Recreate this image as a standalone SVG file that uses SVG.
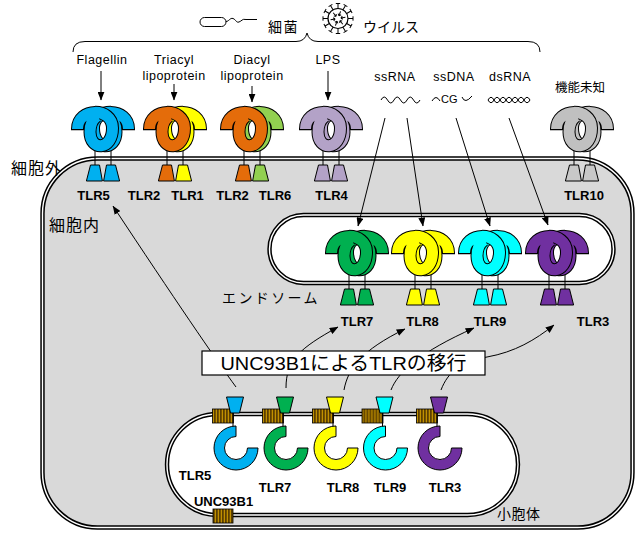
<svg xmlns="http://www.w3.org/2000/svg" xmlns:xlink="http://www.w3.org/1999/xlink" width="635" height="533" viewBox="0 0 635 533">
<defs>
<style>
.jp{font-family:"Noto Sans CJK JP",sans-serif;fill:#000}
.lig{font-family:"Liberation Sans",Arial,sans-serif;font-size:12.5px;letter-spacing:0.5px;text-anchor:middle}
.lab{font-family:"Liberation Sans",Arial,sans-serif;font-size:13px;font-weight:bold;text-anchor:middle}
.mo{fill:none;stroke:#000;stroke-width:13}
.mf{fill:none;stroke:currentColor;stroke-width:11}
.ft{stroke:#000;stroke-width:1}
.stem{stroke:#000;stroke-width:1;fill:none}
.mem{stroke:#000;stroke-width:4.4}
.memw{fill:none;stroke:#fff;stroke-width:1.4}
.ln{fill:none;stroke:#000;stroke-width:1}
.arr{fill:none;stroke:#000;stroke-width:1;marker-end:url(#ah)}
</style>
<marker id="ah" viewBox="0 0 10 8" refX="9.5" refY="4" markerWidth="9" markerHeight="7" markerUnits="userSpaceOnUse" orient="auto"><path d="M0,0 L10,4 L0,8 Z" fill="#000"/></marker>
<pattern id="unc" width="3" height="30" patternUnits="userSpaceOnUse"><rect width="3" height="30" fill="#5c3f00"/><rect x="1.8" width="1" height="30" fill="#d9a400"/></pattern>
<!-- one receptor chain: foot on the left, arch over the top, loop curling back -->
<g id="mono">
<path class="mo" d="M-25.5,1.2 L-25.5,0 C-25.5,-22 9.5,-22 9.5,-1 C9.5,22 -13,22 -13,3 C-13,-5 -10,-10 -6,-13"/>
<path class="mf" d="M-25.5,0 C-25.5,-22 9.5,-22 9.5,-1 C9.5,22 -13,22 -13,3 C-13,-5 -10,-10 -6,-13"/>
</g>
<polygon id="foot" class="ft" points="-12.5,36 -3.5,36 -0.6,52 -16.6,52"/>
<g id="stems"><line class="stem" x1="-8" y1="12" x2="-8" y2="36"/><line class="stem" x1="8" y1="12" x2="8" y2="36"/></g>
<path id="ring" class="ft" d="M0,-22 A22,22 0 1 0 22,0 L11.5,0 A11.5,11.5 0 1 1 0,-11.5 Z"/>
<polygon id="cone" class="ft" points="-8.5,397 8.5,397 4.5,413 -4.5,413"/>
<g id="spk" class="ln"><line x1="0" y1="-10" x2="0" y2="-15"/><line x1="-2.2" y1="-15" x2="2.2" y2="-15"/></g>
<g id="ispk" class="ln"><line x1="0" y1="-3" x2="0" y2="-7.5"/><line x1="0" y1="-3" x2="-1.6" y2="-4.6"/><line x1="0" y1="-3" x2="1.6" y2="-4.6"/></g>
</defs>

<rect width="635" height="533" fill="#fff"/>

<!-- header: pathogens and brace -->
<g id="pathogens">
<rect x="200" y="17.5" width="26" height="9" rx="4.5" fill="#fff" stroke="#000" stroke-width="1"/>
<path class="ln" d="M226,21.5 C229,21.5 230,17.5 233,18.5 C236,19.5 236,23 239,22 C242,21 242,18.5 246,19.5 L257,19.5"/>
<text class="jp" x="268" y="32" font-size="14" letter-spacing="1.5">細菌</text>
<g transform="translate(338,18.5)">
<circle r="10" fill="#fff" stroke="#000" stroke-width="1.2"/>
<use href="#spk"/><use href="#spk" transform="rotate(30)"/><use href="#spk" transform="rotate(60)"/><use href="#spk" transform="rotate(90)"/><use href="#spk" transform="rotate(120)"/><use href="#spk" transform="rotate(150)"/><use href="#spk" transform="rotate(180)"/><use href="#spk" transform="rotate(210)"/><use href="#spk" transform="rotate(240)"/><use href="#spk" transform="rotate(270)"/><use href="#spk" transform="rotate(300)"/><use href="#spk" transform="rotate(330)"/>
<use href="#ispk" transform="rotate(20)"/><use href="#ispk" transform="rotate(80)"/><use href="#ispk" transform="rotate(140)"/><use href="#ispk" transform="rotate(200)"/><use href="#ispk" transform="rotate(260)"/><use href="#ispk" transform="rotate(320)"/>
</g>
<text class="jp" x="363" y="32" font-size="14">ウイルス</text>
<path class="ln" d="M73,52 Q73,41.5 85,41.5 L296,41.5 Q305,41.5 307,33 Q309,41.5 318,41.5 L528,41.5 Q540,41.5 540,52"/>
</g>

<!-- ligands -->
<g id="ligands">
<text class="lig" x="102" y="64">Flagellin</text>
<text class="lig" x="174" y="64">Triacyl</text>
<text class="lig" x="174" y="80">lipoprotein</text>
<text class="lig" x="252" y="64">Diacyl</text>
<text class="lig" x="252" y="80">lipoprotein</text>
<text class="lig" x="328" y="64">LPS</text>
<text class="lig" x="395" y="81">ssRNA</text>
<text class="lig" x="454" y="81">ssDNA</text>
<text class="lig" x="510" y="81">dsRNA</text>
<path class="ln" d="M381,100 Q384.2,94 387.5,100 T394,100 T400.5,100 T407,100 T413.5,100 T420,100"/>
<path class="ln" d="M432,101 Q436,94 440,101"/>
<text x="441" y="103" font-family="Liberation Sans,Arial,sans-serif" font-size="11">CG</text>
<path class="ln" d="M462,97 Q465,104.5 472,96"/>
<path class="ln" d="M488,100 Q491,94.5 494,100 T500,100 T506,100 T512,100 T518,100 T524,100 T530,100"/>
<path class="ln" d="M488,100 Q491,105.5 494,100 T500,100 T506,100 T512,100 T518,100 T524,100 T530,100"/>
<text class="jp" x="555" y="92" font-size="12.5">機能未知</text>
</g>

<!-- cell with plasma membrane -->
<g id="cell">
<rect class="mem" x="42.5" y="158.5" width="590" height="369" rx="55" fill="#d9d9d9"/>
<rect class="memw" x="42.5" y="158.5" width="590" height="369" rx="55"/>
<text class="jp" x="11" y="174" font-size="16" letter-spacing="1">細胞外</text>
<text class="jp" x="49" y="231" font-size="16" letter-spacing="1">細胞内</text>
</g>

<!-- endosome -->
<g id="endosome">
<rect class="mem" x="269.5" y="215" width="344" height="68" rx="34" fill="#fff"/>
<rect class="memw" x="269.5" y="215" width="344" height="68" rx="34"/>
<text class="jp" x="222" y="303" font-size="14" letter-spacing="2.4">エンドソーム</text>
</g>

<!-- endoplasmic reticulum -->
<g id="er">
<rect class="mem" x="167" y="414" width="351" height="101" rx="50.5" fill="#fff"/>
<rect class="memw" x="167" y="414" width="351" height="101" rx="50.5"/>
<text class="jp" x="497" y="519" font-size="14" letter-spacing="0.5">小胞体</text>
</g>

<!-- surface receptors -->
<g id="tlr5" transform="translate(103,129)">
<use href="#stems"/>
<use href="#mono" transform="scale(-1,1)" style="color:#00b0f0"/>
<use href="#mono" style="color:#00b0f0"/>
<use href="#foot" fill="#00b0f0"/><use href="#foot" transform="scale(-1,1)" fill="#00b0f0"/>
</g>
<text class="lab" x="93.5" y="200">TLR5</text>

<g id="tlr2-tlr1" transform="translate(175,129)">
<use href="#stems"/>
<use href="#mono" transform="scale(-1,1)" style="color:#ffff00"/>
<use href="#mono" style="color:#e46c0a"/>
<use href="#foot" fill="#e46c0a"/><use href="#foot" transform="scale(-1,1)" fill="#ffff00"/>
</g>
<text class="lab" x="144" y="200">TLR2</text>
<text class="lab" x="187.5" y="200">TLR1</text>

<g id="tlr2-tlr6" transform="translate(252,129)">
<use href="#stems"/>
<use href="#mono" transform="scale(-1,1)" style="color:#92d050"/>
<use href="#mono" style="color:#e46c0a"/>
<use href="#foot" fill="#e46c0a"/><use href="#foot" transform="scale(-1,1)" fill="#92d050"/>
</g>
<text class="lab" x="232.5" y="200">TLR2</text>
<text class="lab" x="275" y="200">TLR6</text>

<g id="tlr4" transform="translate(331,129)">
<use href="#stems"/>
<use href="#mono" transform="scale(-1,1)" style="color:#b3a2c7"/>
<use href="#mono" style="color:#b3a2c7"/>
<use href="#foot" fill="#b3a2c7"/><use href="#foot" transform="scale(-1,1)" fill="#b3a2c7"/>
</g>
<text class="lab" x="331.5" y="200">TLR4</text>

<g id="tlr10" transform="translate(582,129)">
<use href="#stems"/>
<use href="#mono" transform="scale(-1,1)" style="color:#c0c0c0"/>
<use href="#mono" style="color:#c0c0c0"/>
<use href="#foot" fill="#c8c8c8"/><use href="#foot" transform="scale(-1,1)" fill="#c8c8c8"/>
</g>
<text class="lab" x="584" y="200">TLR10</text>

<!-- endosomal receptors -->
<g id="tlr7" transform="translate(357,253)">
<use href="#stems"/>
<use href="#mono" transform="scale(-1,1)" style="color:#00b050"/>
<use href="#mono" style="color:#00b050"/>
<use href="#foot" fill="#00b050"/><use href="#foot" transform="scale(-1,1)" fill="#00b050"/>
</g>
<text class="lab" x="357" y="326">TLR7</text>

<g id="tlr8" transform="translate(423,253)">
<use href="#stems"/>
<use href="#mono" transform="scale(-1,1)" style="color:#ffff00"/>
<use href="#mono" style="color:#ffff00"/>
<use href="#foot" fill="#ffff00"/><use href="#foot" transform="scale(-1,1)" fill="#ffff00"/>
</g>
<text class="lab" x="422.5" y="326">TLR8</text>

<g id="tlr9" transform="translate(490,253)">
<use href="#stems"/>
<use href="#mono" transform="scale(-1,1)" style="color:#00ffff"/>
<use href="#mono" style="color:#00ffff"/>
<use href="#foot" fill="#00ffff"/><use href="#foot" transform="scale(-1,1)" fill="#00ffff"/>
</g>
<text class="lab" x="490" y="326">TLR9</text>

<g id="tlr3" transform="translate(557,253)">
<use href="#stems"/>
<use href="#mono" transform="scale(-1,1)" style="color:#7030a0"/>
<use href="#mono" style="color:#7030a0"/>
<use href="#foot" fill="#7030a0"/><use href="#foot" transform="scale(-1,1)" fill="#7030a0"/>
</g>
<text class="lab" x="593" y="326">TLR3</text>

<!-- receptors held in the ER by UNC93B1 -->
<g id="er-tlr5" transform="translate(235,0)">
<rect x="-22.5" y="409" width="21" height="14" fill="url(#unc)" stroke="#000" stroke-width="0.8"/>
<line class="stem" x1="-2" y1="413" x2="-2" y2="427"/>
<use href="#cone" fill="#00b0f0"/>
<use href="#ring" transform="translate(1,448)" fill="#00b0f0"/>
</g>
<g id="er-tlr7" transform="translate(285,0)">
<rect x="-22.5" y="409" width="21" height="14" fill="url(#unc)" stroke="#000" stroke-width="0.8"/>
<line class="stem" x1="-2" y1="413" x2="-2" y2="427"/>
<use href="#cone" fill="#00b050"/>
<use href="#ring" transform="translate(1,448)" fill="#00b050"/>
</g>
<g id="er-tlr8" transform="translate(335,0)">
<rect x="-22.5" y="409" width="21" height="14" fill="url(#unc)" stroke="#000" stroke-width="0.8"/>
<line class="stem" x1="-2" y1="413" x2="-2" y2="427"/>
<use href="#cone" fill="#ffff00"/>
<use href="#ring" transform="translate(1,448)" fill="#ffff00"/>
</g>
<g id="er-tlr9" transform="translate(384.5,0)">
<rect x="-22.5" y="409" width="21" height="14" fill="url(#unc)" stroke="#000" stroke-width="0.8"/>
<line class="stem" x1="-2" y1="413" x2="-2" y2="427"/>
<use href="#cone" fill="#00ffff"/>
<use href="#ring" transform="translate(1,448)" fill="#00ffff"/>
</g>
<g id="er-tlr3" transform="translate(439,0)">
<rect x="-22.5" y="409" width="21" height="14" fill="url(#unc)" stroke="#000" stroke-width="0.8"/>
<line class="stem" x1="-2" y1="413" x2="-2" y2="427"/>
<use href="#cone" fill="#7030a0"/>
<use href="#ring" transform="translate(1,448)" fill="#7030a0"/>
</g>
<g id="unc93b1">
<rect x="213" y="509" width="20" height="14" fill="url(#unc)" stroke="#000" stroke-width="0.8"/>
<text class="lab" x="223.5" y="506">UNC93B1</text>
</g>
<g id="er-labels">
<text class="lab" x="195" y="480">TLR5</text>
<text class="lab" x="275" y="492">TLR7</text>
<text class="lab" x="343" y="492">TLR8</text>
<text class="lab" x="390" y="492">TLR9</text>
<text class="lab" x="445" y="492">TLR3</text>
</g>

<!-- connectors -->
<g id="connectors">
<line class="arr" x1="101" y1="71" x2="101" y2="100"/>
<line class="arr" x1="174" y1="84" x2="174" y2="100"/>
<line class="arr" x1="252" y1="86" x2="252" y2="102"/>
<line class="arr" x1="328" y1="71" x2="328" y2="100"/>
<line class="arr" x1="385" y1="118" x2="358" y2="226"/>
<line class="arr" x1="407" y1="118" x2="423" y2="226"/>
<line class="arr" x1="456" y1="118" x2="490" y2="226"/>
<line class="arr" x1="509" y1="118" x2="548" y2="225"/>
<path class="arr" d="M236,387 Q205,345 113,206"/>
<path class="arr" d="M286,388 C286,360 300,348 338,327"/>
<path class="arr" d="M344,390 C348,368 362,350 405,329"/>
<path class="arr" d="M391,390 C398,372 420,352 474,328"/>
<path class="arr" d="M441,390 C448,372 460,362 487,357 C515,352 535,340 554,325"/>
</g>

<!-- trafficking label -->
<g id="trafficking">
<rect x="202" y="351" width="283" height="24" fill="#fff" stroke="#000" stroke-width="1.2"/>
<text x="343.5" y="370" font-family="Liberation Sans,Noto Sans CJK JP,sans-serif" font-size="19" text-anchor="middle" textLength="246" lengthAdjust="spacingAndGlyphs">UNC93B1によるTLRの移行</text>
</g>
</svg>
